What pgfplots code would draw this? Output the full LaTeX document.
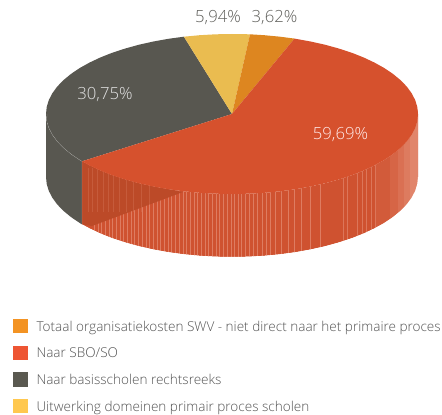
\documentclass[border=0pt]{standalone}
\usepackage{fontspec}
\setmainfont{Open Sans Light}
\usepackage{pgfplots}
\pgfplotsset{compat=1.18}
\definecolor{orangeTop}{HTML}{DD8620}
\definecolor{redTop}{HTML}{D6512D}
\definecolor{darkTop}{HTML}{585750}
\definecolor{yellowTop}{HTML}{EABC50}
\definecolor{redSide}{HTML}{CF5230}
\definecolor{redShade}{HTML}{BC4A28}
\definecolor{redLight}{HTML}{E58F76}
\definecolor{labelGrey}{HTML}{5F5F5B}
\definecolor{keyOrange}{HTML}{F39323}
\definecolor{keyRed}{HTML}{EE5533}
\definecolor{keyDark}{HTML}{5A5950}
\definecolor{keyYellow}{HTML}{FFC84F}
\pgfplotsset{
  stripes/.style={draw=none, forget plot, mark=none,
    error bars/.cd, y dir=both, y fixed=#1, error mark=none},
  swatch/.style={legend image code/.code={
    \fill[##1] (0bp,-5.2bp) rectangle (14.5bp,9.2bp);}},
}
\begin{document}
\begin{tikzpicture}
\begin{axis}[
  scale only axis, width=442bp, height=415bp,
  xmin=0, xmax=442, ymin=0, ymax=415, y dir=reverse,
  hide axis, clip=false,
  legend cell align=left,
  legend style={at={(axis cs:13,319)}, anchor=north west, draw=none, fill=none,
    inner sep=0pt, outer sep=0pt, font=\fontsize{13.6}{14}\selectfont,
    text=black!68, row sep=11.4bp,
    /tikz/every odd column/.append style={column sep=9bp},
    nodes={inner sep=0pt, outer sep=0pt, text height=9bp, text depth=3bp}},
]
\path (axis cs:0,0) rectangle (axis cs:442,415);
%% legend
\addlegendimage{swatch, fill=keyOrange, draw=none}
\addlegendentry{Totaal organisatiekosten SWV - niet direct naar het primaire proces}
\addlegendimage{swatch, fill=keyRed, draw=none}
\addlegendentry{Naar SBO/SO}
\addlegendimage{swatch, fill=keyDark, draw=none}
\addlegendentry{Naar basisscholen rechtsreeks}
\addlegendimage{swatch, fill=keyYellow, draw=none}
\addlegendentry{Uitwerking domeinen primair proces scholen}

%% dark side wall
\addplot[fill=darkTop, draw=none, forget plot] coordinates {
  (82,161.3)(79.6,159.9)(70.9,154)(63.4,147.8)(57.2,141.4)(52.3,134.7)(48.8,127.9)(46.7,121)(46,114)
  (46,177)(46.7,184)(48.8,190.9)(52.3,197.7)(57.2,204.4)(63.4,210.8)(70.9,217)(79.6,222.9)(82,224.4)} -- cycle;

%% red side wall
\addplot[fill=redSide, draw=none, forget plot] coordinates {
  (418,114)(417.3,121)(415.2,127.9)(411.7,134.7)(406.8,141.4)(400.6,147.8)(393.1,154)(384.4,159.9)
  (374.5,165.4)(363.5,170.6)(351.6,175.3)(338.7,179.5)(325,183.3)(310.6,186.5)(295.6,189.2)(280.1,191.3)
  (264.3,192.8)(248.2,193.7)(232,194)(215.8,193.7)(199.7,192.8)(183.9,191.3)(168.4,189.2)(153.4,186.5)
  (139,183.3)(125.3,179.5)(112.4,175.3)(100.5,170.6)(89.5,165.4)(82,161.3)
  (82,224.4)(89.5,228.4)(100.5,233.6)(112.4,238.3)(125.3,242.5)(139,246.3)(153.4,249.5)(168.4,252.2)
  (183.9,254.3)(199.7,255.8)(215.8,256.7)(232,257)(248.2,256.7)(264.3,255.8)(280.1,254.3)(295.6,252.2)
  (310.6,249.5)(325,246.3)(338.7,242.5)(351.6,238.3)(363.5,233.6)(374.5,228.4)(384.4,222.9)(393.1,217)
  (400.6,210.8)(406.8,204.4)(411.7,197.7)(415.2,190.9)(417.3,184)(418,177)} -- cycle;

%% light streaks on the red wall
\addplot[stripes=50, error bar style={color=redLight, line width=.5pt, opacity=.7}] coordinates {
  (94,215)(98,215)(101,215)(105,215)(109,215)(112,215)(116,215)(120,215)(123,215)(127,215)(131,215)
  (134,215)(138,215)(142,215)(146,215)(149,215)(153,215)(157,215)(160,215)(164,215)(168,215)(171,215)
  (175,215)(179,215)(183,215)(186,215)(190,215)(194,215)(197,215)(201,215)(205,215)(208,215)(212,215)
  (216,215)(219,215)(223,215)(227,215)(231,215)(234,215)(238,215)(241,215)(245,215)(249,215)(253,215)
  (257,215)(262,215)(266,215)(270,215)(275,215)(281,215)(288,215)(294,215)(301,215)(310,215)(320,215)};
\addplot[stripes=50, error bar style={color=redLight, line width=.45pt, opacity=.6}] coordinates {
  (343,215)(347,215)(357,215)(362,215)(366,215)(371,215)(375,215)};
%% pale band at the right end, getting paler towards the edge
\addplot[stripes=80, error bar style={color=redLight, line width=1.6pt, opacity=.15}] coordinates {
  (377,190)(379,190)(381,190)(383,190)(385,190)(387,190)(389,190)};
\addplot[stripes=80, error bar style={color=redLight, line width=1.6pt, opacity=.32}] coordinates {
  (391,190)(393,190)(395,190)(397,190)};
\addplot[stripes=80, error bar style={color=redLight, line width=1.6pt, opacity=.5}] coordinates {
  (399,190)(401,190)(403,190)};
\addplot[stripes=80, error bar style={color=redLight, line width=1.6pt, opacity=.68}] coordinates {
  (405,190)(407,190)(409,190)};
\addplot[stripes=80, error bar style={color=redLight, line width=1.6pt, opacity=.85}] coordinates {
  (411,190)(413,190)(415,190)(417,190)};

%% shaded part on the left of the red wall
\addplot[fill=redShade, draw=none, forget plot] coordinates {
  (82,161.3)(82,224.4)(92,226)(183,192)(168.4,189.2)(153.4,186.5)(139,183.3)(125.3,179.5)
  (112.4,175.3)(100.5,170.6)(89.5,165.4)} -- cycle;
\addplot[stripes=22, error bar style={color=redLight, line width=.5pt, opacity=.25}] coordinates {
  (88,190)(92,190)(97,190)(103,190)(108,190)(113,190)(119,190)(126,190)(133,190)(141,190)(149,190)};

%% white below the wall trims the streaks
\addplot[fill=white, draw=none, forget plot] coordinates {
  (418,177)(417.3,184)(415.2,190.9)(411.7,197.7)(406.8,204.4)(400.6,210.8)(393.1,217)(384.4,222.9)
  (374.5,228.4)(363.5,233.6)(351.6,238.3)(338.7,242.5)(325,246.3)(310.6,249.5)(295.6,252.2)(280.1,254.3)
  (264.3,255.8)(248.2,256.7)(232,257)(215.8,256.7)(199.7,255.8)(183.9,254.3)(168.4,252.2)(153.4,249.5)
  (139,246.3)(125.3,242.5)(112.4,238.3)(100.5,233.6)(89.5,228.4)(82,224.4)
  (82,272)(424,272)(424,177)} -- cycle;

%% top faces
\addplot[fill=darkTop, draw=none, forget plot] coordinates {
  (232,114)(82,161.3)(79.6,159.9)(70.9,154)(63.4,147.8)(57.2,141.4)(52.3,134.7)(48.8,127.9)(46.7,121)(46,114)
  (46.7,107)(48.8,100.1)(52.3,93.3)(57.2,86.6)(63.4,80.2)(70.9,74)(79.6,68.1)(89.5,62.6)(100.5,57.4)
  (112.4,52.7)(125.3,48.5)(139,44.7)(153.4,41.5)(168.4,38.8)(183.9,36.7)} -- cycle;
\addplot[fill=yellowTop, draw=none, forget plot] coordinates {
  (232,114)(183.9,36.7)(199.7,35.2)(215.8,34.3)(232,34)(250,34.3)} -- cycle;
\addplot[fill=orangeTop, draw=none, forget plot] coordinates {
  (232,114)(250,34.3)(264.3,35.2)(280.1,36.7)(294.5,38.6)} -- cycle;
\addplot[fill=redTop, draw=none, forget plot] coordinates {
  (232,114)(294.5,38.6)(310.6,41.5)(325,44.7)(338.7,48.5)(351.6,52.7)(363.5,57.4)(374.5,62.6)(384.4,68.1)
  (393.1,74)(400.6,80.2)(406.8,86.6)(411.7,93.3)(415.2,100.1)(417.3,107)(418,114)
  (417.3,121)(415.2,127.9)(411.7,134.7)(406.8,141.4)(400.6,147.8)(393.1,154)(384.4,159.9)
  (374.5,165.4)(363.5,170.6)(351.6,175.3)(338.7,179.5)(325,183.3)(310.6,186.5)(295.6,189.2)(280.1,191.3)
  (264.3,192.8)(248.2,193.7)(232,194)(215.8,193.7)(199.7,192.8)(183.9,191.3)(168.4,189.2)(153.4,186.5)
  (139,183.3)(125.3,179.5)(112.4,175.3)(100.5,170.6)(89.5,165.4)(82,161.3)} -- cycle;

%% thin pale seams on the dark wall
\addplot[draw=white, line width=.3pt, opacity=.35, forget plot] coordinates {
  (47,114)(46.7,121)(48.8,127.9)(52.3,134.7)(57.2,141.4)(63.4,147.8)(70.9,154)(79.6,159.9)(82,161.3)(82,224.4)};

\node[font=\fontsize{16.8}{18}\selectfont, text=white!92!red] at (axis cs:340.5,135) {59,69\%};
\node[font=\fontsize{16.8}{18}\selectfont, text=white!88!black] at (axis cs:105,95) {30,75\%};
\node[font=\fontsize{16.8}{18}\selectfont, text=labelGrey] at (axis cs:218,18) {5,94\%};
\node[font=\fontsize{16.8}{18}\selectfont, text=labelGrey] at (axis cs:274.5,18) {3,62\%};
\end{axis}
\end{tikzpicture}
\end{document}
